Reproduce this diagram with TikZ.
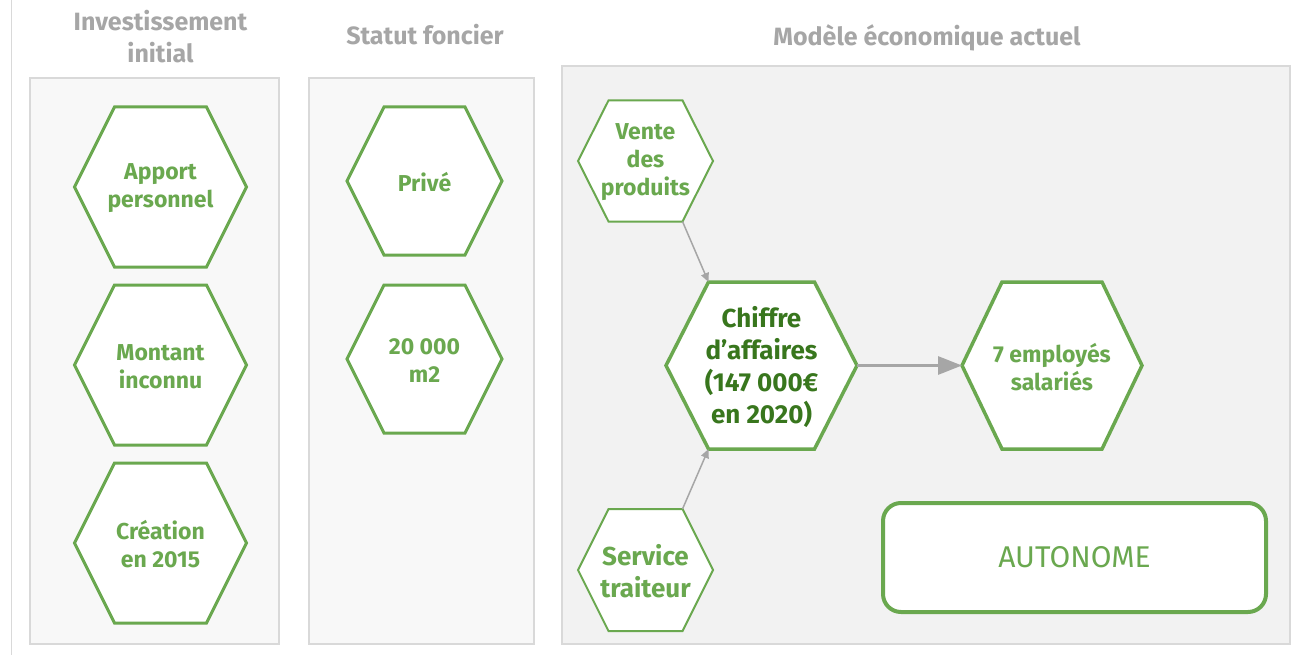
\documentclass[tikz,border=0pt]{standalone}
\usepackage{fontspec}
\setmainfont{Fira Sans}
\usetikzlibrary{arrows.meta}
\definecolor{hgreen}{HTML}{6AA84F}
\definecolor{dgreen}{HTML}{38761D}
\definecolor{htext}{HTML}{A6A6A6}
\definecolor{pborder}{HTML}{D9D9D9}
\definecolor{pfillA}{HTML}{F8F8F8}
\definecolor{pfillB}{HTML}{F2F2F2}
\definecolor{agray}{HTML}{A6A6A6}
\tikzset{
  panel/.style={draw=pborder, line width=2pt},
  heading/.style={text=htext, align=center, font=\fontsize{25}{32}\selectfont\bfseries},
  hexline/.style={draw=hgreen, fill=white, line width=#1, line join=miter},
  hextext/.style={text=hgreen, align=center, inner sep=0pt, font=\fontsize{23}{28}\selectfont\bfseries},
  bigtext/.style={text=dgreen, align=center, inner sep=0pt, font=\fontsize{26}{32}\selectfont\bfseries},
  thinarrow/.style={draw=agray, line width=1.5pt, -{Triangle[length=9pt,width=8pt]}},
  thickarrow/.style={draw=agray, line width=3pt, -{Triangle[length=24pt,width=18pt]}},
}
% name, cx, cy, half width, half height, top half width, line width, text style, text
\newcommand\hexa[9]{%
  \begin{scope}[shift={(#2,#3)}]
    \draw[hexline=#7] (-#4,0) coordinate (#1-l) -- (-#6,-#5) coordinate (#1-tl)
      -- (#6,-#5) coordinate (#1-tr) -- (#4,0) coordinate (#1-r)
      -- (#6,#5) coordinate (#1-br) -- (-#6,#5) coordinate (#1-bl) -- cycle;
    \node[#8] (#1) at (0,1.5) {#9};
  \end{scope}}
\begin{document}
\begin{tikzpicture}[x=1pt,y=-1pt]
\useasboundingbox (0,0) rectangle (1308,655);
\fill[white] (0,0) rectangle (1308,655);
% left rule
\draw[pborder, line width=1.5pt] (11.5,0) -- (11.5,655);
% panels
\draw[panel, fill=pfillA] (30,78) rectangle (279,644);
\draw[panel, fill=pfillA] (309,78) rectangle (534,644);
\draw[panel, fill=pfillB] (562,66) rectangle (1290,644);
% headings
\node[heading] (h1) at (160.5,37) {Investissement\\initial};
\node[heading] (h2) at (425,35) {Statut foncier};
\node[heading] (h3) at (927,38) {Modèle économique actuel};
% panel 1
\hexa{apport}{160.5}{187}{86}{80}{46}{3pt}{hextext}{Apport\\personnel}
\hexa{montant}{160.5}{365}{86}{80}{46}{3pt}{hextext}{Montant\\inconnu}
\hexa{creation}{160.5}{543}{86}{80}{46}{3pt}{hextext}{Création\\en 2015}
% panel 2
\hexa{prive}{424.5}{181}{77.5}{74}{40.5}{3pt}{hextext}{Privé}
\hexa{surface}{424.5}{359}{77.5}{74}{40.5}{3pt}{hextext}{20 000\\m2}
% panel 3
\hexa{vente}{645.5}{161}{67.5}{60.5}{37}{2pt}{hextext}{Vente\\des\\produits}
\hexa{chiffre}{761.5}{365.5}{95.5}{83.5}{53}{3.5pt}{bigtext}{Chiffre\\d’affaires\\(147 000€\\en 2020)}
\hexa{employes}{1052}{365.5}{90}{83.5}{50}{3.5pt}{hextext}{7 employés\\salariés}
\hexa{service}{645.5}{570}{67.5}{61}{37}{2pt}{hextext, font=\fontsize{26}{32}\selectfont\bfseries}{Service\\traiteur}
\node[draw=hgreen, fill=white, line width=4pt, rounded corners=18pt, minimum width=383pt, minimum height=109pt, text=hgreen, font=\fontsize{30}{34}\selectfont] (auto) at (1074.5,557.5) {AUTONOME};
% connectors
\draw[thinarrow] (vente-br) -- (chiffre-tl);
\draw[thinarrow] (service-tr) -- (chiffre-bl);
\draw[thickarrow] (chiffre-r) -- (employes-l);
\end{tikzpicture}
\end{document}
